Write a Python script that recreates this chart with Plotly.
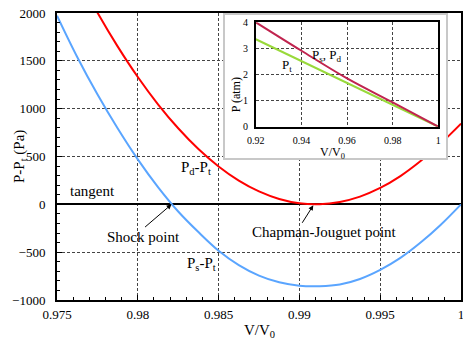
import plotly.graph_objects as go

# main plot: pressure differences against the tangent line (Pa)
v_over_v0 = [0.975, 0.97625, 0.9775, 0.97875, 0.98, 0.98125, 0.9825, 0.98375, 0.985, 0.98625,
             0.9875, 0.98875, 0.99, 0.99125, 0.9925, 0.99375, 0.995, 0.99625, 0.9975, 0.99875, 1.0]
ps_minus_pt = [1972, 1540, 1150, 795, 470, 180, -75, -290, -485, -635,
               -745, -815, -850, -855, -838, -780, -685, -560, -400, -213, 0]
pd_minus_pt = [2816, 2393, 2005, 1651, 1331, 1046, 795, 578, 396, 248,
               135, 56, 11, 1, 25, 81, 171, 295, 452, 637, 844]

# inset: absolute pressures (atm)
inset_x = [0.92, 0.94, 0.96, 0.98, 1.0]
ps_pd_atm = [4.0, 2.91, 1.85, 0.93, 0.0]
pt_atm = [3.35, 2.51, 1.68, 0.84, 0.0]

FONT = "Liberation Serif, Times New Roman, Times, DejaVu Serif, serif"
GRID = dict(showgrid=True, gridcolor="#444", griddash="3px,2px", gridwidth=1)

fig = go.Figure()
fig.add_trace(go.Scatter(x=v_over_v0, y=ps_minus_pt, mode="lines",
                         line=dict(color="#5aa5ff", width=2, shape="spline")))
fig.add_trace(go.Scatter(x=v_over_v0, y=pd_minus_pt, mode="lines",
                         line=dict(color="#ff0000", width=2, shape="spline")))
# empty trace for the white inset frame (x2/y2), drawn over the main curves
fig.add_trace(go.Scatter(x=[], y=[], xaxis="x2", yaxis="y2"))
fig.add_trace(go.Scatter(x=inset_x, y=pt_atm, mode="lines", line=dict(color="#99d93a", width=2),
                         xaxis="x3", yaxis="y3"))
fig.add_trace(go.Scatter(x=inset_x, y=ps_pd_atm, mode="lines",
                         line=dict(color="#c0244f", width=2, shape="spline"),
                         xaxis="x3", yaxis="y3"))

tick_font = dict(family=FONT, size=13, color="black")
inset_font = dict(family=FONT, size=10, color="black")

# the page body adds an 8px offset, so the figure is 8px smaller and margins shifted
fig.update_layout(
    width=463, height=338,
    margin=dict(l=49, r=10, t=5, b=46, autoexpand=False),
    paper_bgcolor="white", plot_bgcolor="white",
    showlegend=False,
    font=dict(family=FONT, color="black"),
    xaxis=dict(range=[0.975, 1.0], dtick=0.005, tick0=0.975, ticks="inside", ticklen=5,
               tickcolor="black", showline=True, linecolor="black", linewidth=2, mirror=True,
               tickfont=tick_font, zeroline=False, ticklabelstandoff=1, ticklabeloverflow="allow",
               minor=dict(dtick=0.001, ticks="inside", ticklen=3, tickcolor="black", showgrid=False),
               **GRID),
    yaxis=dict(range=[-1000, 2000], dtick=500, ticks="inside", ticklen=5,
               tickcolor="black", showline=True, linecolor="black", linewidth=2, mirror=True,
               tickfont=tick_font, zeroline=True, zerolinecolor="black", zerolinewidth=2,
               ticklabelstandoff=7, ticklabeloverflow="allow",
               minor=dict(dtick=100, ticks="inside", ticklen=3, tickcolor="black", showgrid=False),
               **GRID),
    xaxis2=dict(domain=[0.4154, 0.9629], range=[0, 1], anchor="y2", showline=True, mirror=True,
                linecolor="#c8c8c8", linewidth=1.5, showgrid=False, zeroline=False,
                showticklabels=False, ticks=""),
    yaxis2=dict(domain=[0.4937, 0.9930], range=[0, 1], anchor="x2", showline=True, mirror=True,
                linecolor="#c8c8c8", linewidth=1.5, showgrid=False, zeroline=False,
                showticklabels=False, ticks=""),
    xaxis3=dict(domain=[0.4922, 0.9438], range=[0.92, 1.0], dtick=0.02, tick0=0.92, anchor="y3",
                showline=True, mirror=True, linecolor="black", linewidth=1.5, zeroline=False,
                tickfont=inset_font, ticks="", ticklabelstandoff=4, **GRID),
    yaxis3=dict(domain=[0.6038, 0.9676], range=[0, 4], dtick=1, anchor="x3",
                showline=True, mirror=True, linecolor="black", linewidth=1.5, zeroline=False,
                tickfont=inset_font, ticks="", ticklabelstandoff=4, **GRID),
)

label = dict(family=FONT, size=15, color="black")
ann = [
    # axis titles
    dict(text="P-P<sub>t</sub> (Pa)", xref="paper", yref="paper", x=-0.12, y=0.5, textangle=-90,
         showarrow=False, font=label),
    dict(text="V/V<sub>0</sub>", xref="paper", yref="paper", x=0.5, y=-0.108, yanchor="middle",
         showarrow=False, font=label),
    # curve labels
    dict(text="tangent", x=0.97566, y=138, xanchor="left", showarrow=False, font=label),
    dict(text="P<sub>d</sub>-P<sub>t</sub>", x=0.98359, y=385, showarrow=False, font=label),
    dict(text="P<sub>s</sub>-P<sub>t</sub>", x=0.98395, y=-625, showarrow=False, font=label),
    dict(text="Shock point", x=0.98037, y=-345, showarrow=False, font=label),
    dict(text="Chapman-Jouguet point", x=0.99157, y=-288, showarrow=False, font=label),
    # arrows
    dict(text="", x=0.98209, y=0, ax=-28, ay=24, showarrow=True, arrowhead=2, arrowsize=1,
         arrowwidth=1, arrowcolor="black"),
    dict(text="", x=0.99086, y=-10, ax=-12, ay=19, showarrow=True, arrowhead=2, arrowsize=1,
         arrowwidth=1, arrowcolor="black"),
    # inset labels
    dict(text="P<sub>t</sub>", xref="x3", yref="y3", x=0.9336, y=2.35, showarrow=False,
         font=dict(family=FONT, size=13, color="black")),
    dict(text="P<sub>s</sub>, P<sub>d</sub>", xref="x3", yref="y3", x=0.9512, y=2.72, showarrow=False,
         font=dict(family=FONT, size=13, color="black")),
    dict(text="V/V<sub>0</sub>", xref="paper", yref="paper", x=0.7180, y=(300 - 153) / 287,
         yanchor="middle", showarrow=False, font=dict(family=FONT, size=12, color="black")),
    dict(text="P (atm)", xref="paper", yref="paper", x=(236 - 57.3) / 403.7, y=(300 - 75) / 287,
         textangle=-90, showarrow=False, font=dict(family=FONT, size=12, color="black")),
]
fig.update_layout(annotations=ann)

fig.write_html("out.html")
